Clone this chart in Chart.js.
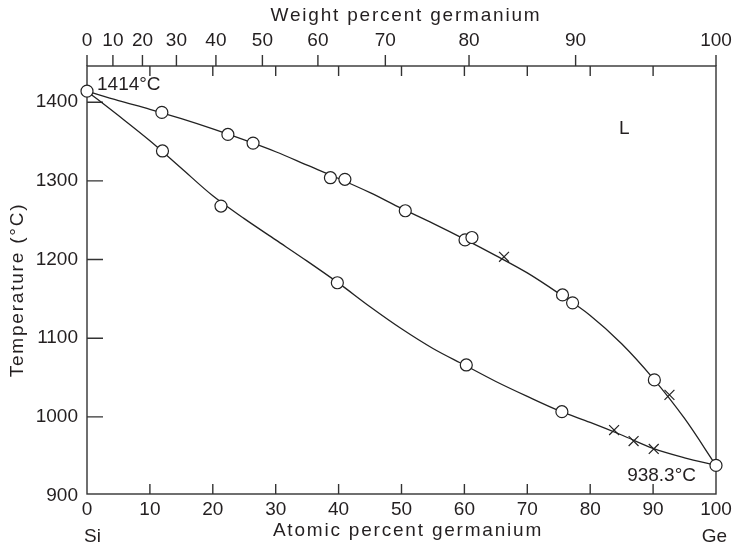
<!DOCTYPE html>
<html>
<head>
<meta charset="utf-8">
<script src="https://cdn.jsdelivr.net/npm/chart.js@4.4.0/dist/chart.umd.min.js"></script>
<style>
  body { margin: 0; background: #fff; }
  #wrap { width: 734px; height: 547px; position: relative; }
</style>
</head>
<body>
<div id="wrap"><canvas id="phaseChart"></canvas></div>
<script>
// tick labels
const atomicTicks = [0, 10, 20, 30, 40, 50, 60, 70, 80, 90, 100];
const weightTicks = [0, 10, 20, 30, 40, 50, 60, 70, 80, 90, 100];
const tempTicks = [900, 1000, 1100, 1200, 1300, 1400];

// liquidus line
const liquidusX = [0, 5, 10, 15, 20, 25, 30, 35, 40, 45, 50, 55, 60, 65, 70, 75, 80, 85, 90, 95, 100];
const liquidusT = [1414, 1402, 1391, 1379, 1366, 1352, 1337, 1320, 1303, 1285, 1265, 1246, 1226, 1205, 1183, 1157, 1129, 1093, 1049, 998, 938.3];

// solidus line
const solidusX = [0, 5, 10, 15, 20, 25, 30, 35, 40, 45, 50, 55, 60, 65, 70, 75, 80, 85, 90, 95, 100];
const solidusT = [1414, 1383, 1351, 1316, 1281, 1252, 1225, 1198, 1170, 1140, 1112, 1087, 1066, 1045, 1026, 1008, 993, 977, 960, 948, 938.3];

// measured points (circles) and crosses
const liqCircleX = [0, 11.9, 22.4, 26.4, 38.7, 41.0, 50.6, 60.1, 61.2, 75.6, 77.2, 90.2, 100];
const liqCircleT = [1414, 1387, 1359, 1348, 1304, 1302, 1262, 1225, 1228, 1155, 1145, 1047, 938.3];
const liqCrossX = [66.3, 92.6];
const liqCrossT = [1203.5, 1028];
const solCircleX = [12.0, 21.3, 39.8, 60.3, 75.5];
const solCircleT = [1338, 1268, 1170.5, 1066, 1006.6];
const solCrossX = [83.8, 86.9, 90.1];
const solCrossT = [983.3, 969.3, 959.2];

const ink = "#231f20";
const fontFam = "'Liberation Sans', Arial, sans-serif";

// Si-Ge: weight % Ge -> atomic % Ge
function wtToAt(w) {
  const ge = w / 72.63, si = (100 - w) / 28.0855;
  return 100 * ge / (ge + si);
}

const pts = (xs, ys) => xs.map((x, i) => ({ x: x, y: ys[i] }));

const decor = {
  id: "decor",
  beforeDatasetsDraw(chart) {
    const { ctx, chartArea: a } = chart;
    const x = chart.scales.x, y = chart.scales.y;
    ctx.save();
    ctx.strokeStyle = "#333";
    ctx.lineWidth = 1.4;
    ctx.strokeRect(a.left, a.top, a.right - a.left, a.bottom - a.top);
    ctx.beginPath();
    tempTicks.slice(1).forEach(t => {
      const py = y.getPixelForValue(t);
      ctx.moveTo(a.left, py); ctx.lineTo(a.left + 16, py);
    });
    atomicTicks.slice(1, -1).forEach(v => {
      const px = x.getPixelForValue(v);
      ctx.moveTo(px, a.bottom); ctx.lineTo(px, a.bottom - 10);
      ctx.moveTo(px, a.top); ctx.lineTo(px, a.top + 10);
    });
    weightTicks.forEach(w => {
      const px = x.getPixelForValue(wtToAt(w));
      ctx.moveTo(px, a.top); ctx.lineTo(px, a.top - 11);
    });
    ctx.stroke();
    ctx.restore();
  },
  afterDraw(chart) {
    const { ctx } = chart;
    const x = chart.scales.x, y = chart.scales.y;
    ctx.save();
    ctx.fillStyle = ink;
    ctx.font = "19px " + fontFam;
    ctx.textBaseline = "middle";
    ctx.textAlign = "left";
    ctx.fillText("1414°C", 97, 85);
    ctx.textAlign = "right";
    ctx.fillText("938.3°C", 696, 476);
    ctx.textAlign = "center";
    ctx.fillText("L", x.getPixelForValue(85.4), y.getPixelForValue(1366));
    ctx.textAlign = "left";
    ctx.fillText("Si", 84, 537);
    ctx.textAlign = "right";
    ctx.fillText("Ge", 727, 537);
    ctx.letterSpacing = "1.8px";
    ctx.textAlign = "center";
    ctx.fillText("Weight percent germanium", 406, 16);
    ctx.fillText("Atomic percent germanium", 408, 531);
    ctx.translate(18, 290);
    ctx.rotate(-Math.PI / 2);
    ctx.fillText("Temperature (°C)", 0, 0);
    ctx.restore();
  }
};

const circleStyle = {
  showLine: false, pointStyle: "circle", pointRadius: 6, pointHoverRadius: 6,
  pointBackgroundColor: "#fff", pointBorderColor: "#222", pointBorderWidth: 1.2,
  clip: false, order: 0
};
const crossStyle = {
  showLine: false, pointStyle: "crossRot", pointRadius: 7, pointHoverRadius: 7,
  pointBorderColor: "#222", pointBorderWidth: 1.2, clip: false, order: 1
};
const lineStyle = {
  showLine: true, pointRadius: 0, borderColor: "#222", borderWidth: 1.3,
  cubicInterpolationMode: "monotone", clip: false, order: 2
};

// keep the plot box fixed: no extra room for the end labels
const noSidePad = s => { s.paddingLeft = 0; s.paddingRight = 0; };

new Chart(document.getElementById("phaseChart"), {
  type: "scatter",
  data: {
    datasets: [
      Object.assign({ label: "Liquidus", data: pts(liquidusX, liquidusT) }, lineStyle),
      Object.assign({ label: "Solidus", data: pts(solidusX, solidusT) }, lineStyle),
      Object.assign({ label: "Liquidus data", data: pts(liqCircleX, liqCircleT) }, circleStyle),
      Object.assign({ label: "Solidus data", data: pts(solCircleX, solCircleT) }, circleStyle),
      Object.assign({ label: "Liquidus x", data: pts(liqCrossX, liqCrossT) }, crossStyle),
      Object.assign({ label: "Solidus x", data: pts(solCrossX, solCrossT) }, crossStyle)
    ]
  },
  options: {
    responsive: true,
    maintainAspectRatio: false,
    animation: false,
    layout: { padding: { left: 0, right: 18, top: 0, bottom: 0 } },
    plugins: { legend: { display: false }, tooltip: { enabled: false } },
    scales: {
      x: {
        type: "linear", position: "bottom", min: 0, max: 100,
        afterBuildTicks: s => { s.ticks = atomicTicks.map(v => ({ value: v })); },
        afterFit: s => { s.height = 53; noSidePad(s); },
        grid: { display: false, drawTicks: false },
        border: { display: false },
        ticks: { color: ink, font: { family: fontFam, size: 19 }, padding: 4, maxRotation: 0, autoSkip: false }
      },
      x2: {
        type: "linear", position: "top", min: 0, max: 100,
        afterBuildTicks: s => { s.ticks = weightTicks.map(w => ({ value: wtToAt(w) })); },
        afterFit: s => { s.height = 66; noSidePad(s); },
        grid: { display: false, drawTicks: false },
        border: { display: false },
        ticks: {
          color: ink, font: { family: fontFam, size: 19 }, padding: 14, maxRotation: 0, autoSkip: false,
          callback: (v, i) => String(weightTicks[i])
        }
      },
      y: {
        type: "linear", min: 902, max: 1446,
        afterBuildTicks: s => { s.ticks = tempTicks.map(t => ({ value: t })); },
        afterFit: s => { s.width = 87; s.paddingTop = 0; s.paddingBottom = 0; },
        grid: { display: false, drawTicks: false },
        border: { display: false },
        ticks: {
          color: ink, font: { family: fontFam, size: 19 }, padding: 9,
          callback: v => String(v)
        }
      }
    }
  },
  plugins: [decor]
});
</script>
</body>
</html>
